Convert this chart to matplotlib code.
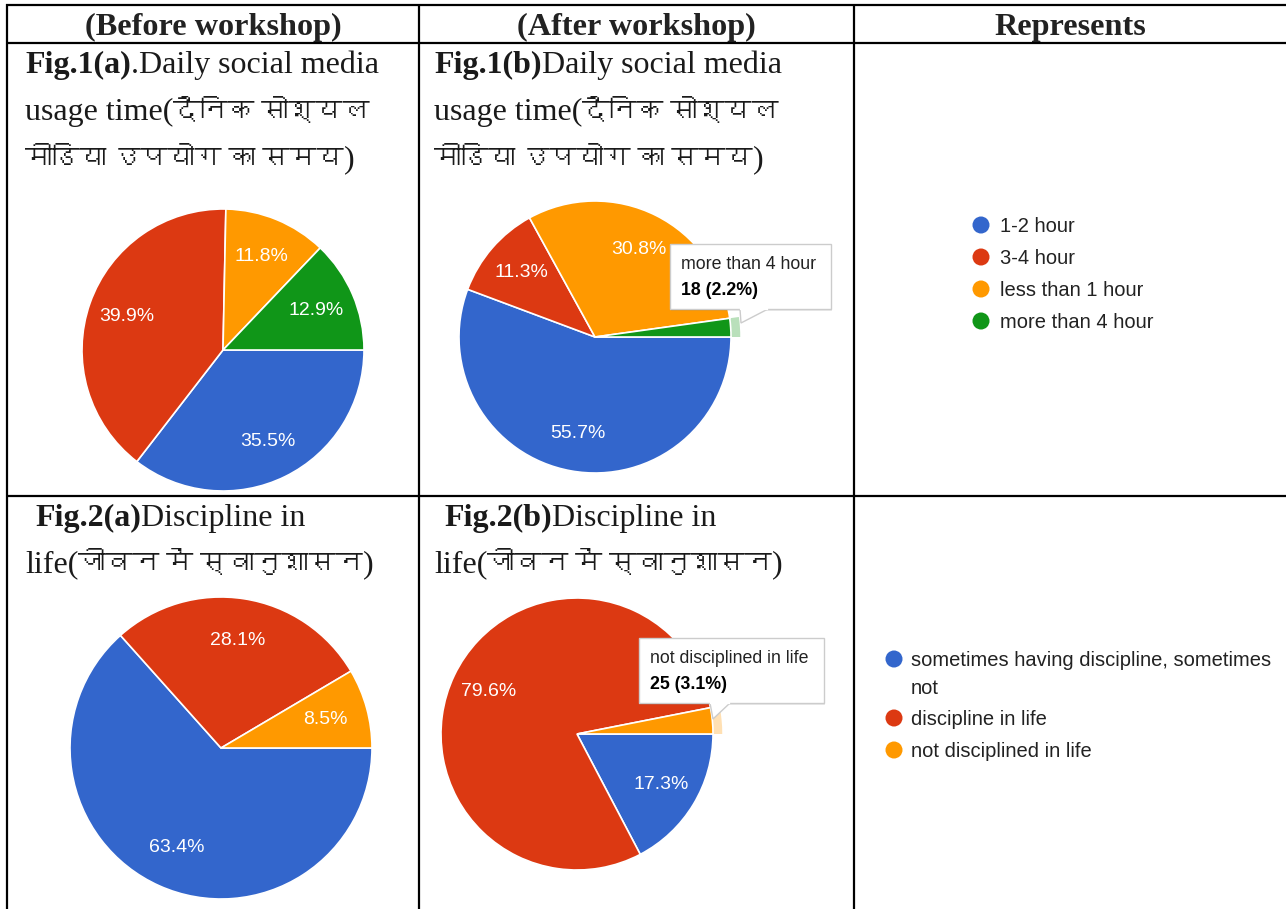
import matplotlib
matplotlib.use('Agg')
import matplotlib.pyplot as plt
from matplotlib import font_manager
from matplotlib.patches import Rectangle, Polygon

# ---------------- data ----------------
headers = ['(Before workshop)', '(After workshop)', 'Represents']
usage_labels = ['1-2 hour', '3-4 hour', 'less than 1 hour', 'more than 4 hour']
usage_before = [35.5, 39.9, 11.8, 12.9]
usage_after = [55.7, 11.3, 30.8, 2.2]
disc_labels = ['sometimes having discipline, sometimes\nnot', 'discipline in life', 'not disciplined in life']
disc_before = [63.4, 28.1, 8.5]
disc_after = [17.3, 79.6, 3.1]
tip_usage = ('more than 4 hour', 18, 2.2)
tip_disc = ('not disciplined in life', 25, 3.1)
colors = ['#3366CC', '#DC3912', '#FF9900', '#109618']
light = ['#c2d1f0', '#f5c4b8', '#ffe0b3', '#b9e0bb']

W, H, DPI = 1286, 909, 100


def find_family(ch):
    try:
        from fontTools.ttLib import TTFont
    except Exception:
        return None
    seen = set()
    for f in font_manager.fontManager.ttflist:
        if f.fname in seen:
            continue
        seen.add(f.fname)
        try:
            tt = TTFont(f.fname, fontNumber=0, lazy=True)
            cm = tt.getBestCmap()
            if cm and ord(ch) in cm:
                return f.name
        except Exception:
            continue
    return None


DEV = find_family('\u0926')
SERIF = ['Liberation Serif'] + ([DEV] if DEV else ['DejaVu Sans'])
SANS = 'Liberation Sans'
TXT = '#1a1a1a'
FS = 23      # latin body size
HS = 19.5    # devanagari size

fig = plt.figure(figsize=(W / DPI, H / DPI), dpi=DPI)
fig.patch.set_facecolor('white')
ov = fig.add_axes([0, 0, 1, 1])
ov.set_xlim(0, W)
ov.set_ylim(H, 0)
ov.axis('off')
ov.set_zorder(5)
renderer = fig.canvas.get_renderer()

# ---------------- table grid ----------------
lw = 1.6
for x in [7, 419, 854]:
    ov.plot([x, x], [4, H], color='black', lw=lw, solid_capstyle='butt')
for y in [5, 43, 496]:
    ov.plot([6, W], [y, y], color='black', lw=lw, solid_capstyle='butt')

# headers
for cx, h in zip([213, 636, 1070], headers):
    ov.text(cx, 35, h, ha='center', va='baseline', fontsize=23.2, fontweight='bold',
            family=SERIF, color='#222222')


def runs(x, y, parts):
    for txt, weight, size in parts:
        t = ov.text(x, y, txt, fontsize=size, fontweight=weight, family=SERIF,
                    va='baseline', ha='left', color=TXT)
        bb = t.get_window_extent(renderer=renderer)
        x = x + bb.width + (6 if txt.endswith('l') and size == HS else 0)


# row 1 titles
for x0, bold, rest in [(25, 'Fig.1(a)', '.Daily social media'), (434, 'Fig.1(b)', 'Daily social media')]:
    runs(x0, 73, [(bold, 'bold', FS), (rest, 'normal', FS)])
    runs(x0, 120, [('usage time(', 'normal', FS), ('दैनिक सोश्यल', 'normal', HS)])
    runs(x0, 167, [('मीडिया उपयोग का समय', 'normal', HS), (')', 'normal', FS)])
# row 2 titles
for x0, bold in [(25, 'Fig.2(a)'), (434, 'Fig.2(b)')]:
    runs(x0 + 10, 526, [(bold, 'bold', FS), ('Discipline in', 'normal', FS)])
    runs(x0, 572, [('life(', 'normal', FS), ('जीवन में स्वानुशासन', 'normal', HS), (')', 'normal', FS)])


# ---------------- pies ----------------
def pie_at(cx, cy, R, values, highlight=None):
    pad = 1.15
    ax = fig.add_axes([(cx - R * pad) / W, (H - cy - R * pad) / H,
                       2 * R * pad / W, 2 * R * pad / H])
    n = len(values)
    if highlight is not None:
        cols = [light[i] if i == highlight else 'none' for i in range(n)]
        ax.pie(values, colors=cols, radius=1.068, startangle=0, counterclock=False,
               wedgeprops=dict(linewidth=0))
    ax.pie(values, colors=colors[:n], startangle=0, counterclock=False,
           autopct=lambda p: f'{p:.1f}%' if p >= 5 else '', pctdistance=0.72,
           wedgeprops=dict(edgecolor='white', linewidth=1.2),
           textprops=dict(color='white', fontsize=14, family=SANS))
    ax.set_xlim(-pad, pad)
    ax.set_ylim(-pad, pad)
    ax.set_aspect('equal')
    ax.axis('off')
    return ax


pie_at(223, 350, 141, usage_before)
pie_at(595, 337, 136, usage_after, highlight=3)
pie_at(221, 748, 151, disc_before)
pie_at(577, 734, 136, disc_after, highlight=2)


# ---------------- tooltips ----------------
def tooltip(x0, y0, x1, y1, base, tip, tipdata):
    name, count, pct = tipdata
    ov.add_patch(Rectangle((x0 + 1, y0 + 2), x1 - x0, y1 - y0, facecolor='#000000',
                           alpha=0.08, edgecolor='none', zorder=6))
    ov.add_patch(Rectangle((x0, y0), x1 - x0, y1 - y0, facecolor='white',
                           edgecolor='#cccccc', lw=1.0, zorder=7))
    ov.add_patch(Polygon([(base[0], y1), tip, (base[1], y1)], closed=False,
                         facecolor='white', edgecolor='#cccccc', lw=1.0, zorder=7))
    ov.plot([base[0] + 1, base[1] - 1], [y1, y1], color='white', lw=1.6, zorder=8)
    ov.text(x0 + 11, y0 + 25, name, fontsize=12.8, family=SANS, color='#222222',
            va='baseline', zorder=9)
    ov.text(x0 + 11, y0 + 51, f'{count} ({pct}%)', fontsize=12.8, family=SANS,
            fontweight='bold', color='#000000', va='baseline', zorder=9)


tooltip(670, 244, 831, 309, (740, 768), (741, 323), tip_usage)
tooltip(639, 638, 824, 703, (710, 730), (713, 719), tip_disc)


# ---------------- legends ----------------
def legend(xc, xt, y0, labels):
    y = y0
    for i, lab in enumerate(labels):
        ov.scatter([xc], [y], s=150, color=colors[i], edgecolors='none', zorder=6)
        ov.text(xt, y - 8, lab, fontsize=14.5, family=SANS, color='#222222', va='top',
                ha='left', linespacing=1.6, zorder=6)
        y += 32 + 27 * lab.count('\n')


legend(981, 1000, 225, usage_labels)
legend(894, 911, 659, disc_labels)

fig.savefig('out.png', dpi=DPI, facecolor='white')
